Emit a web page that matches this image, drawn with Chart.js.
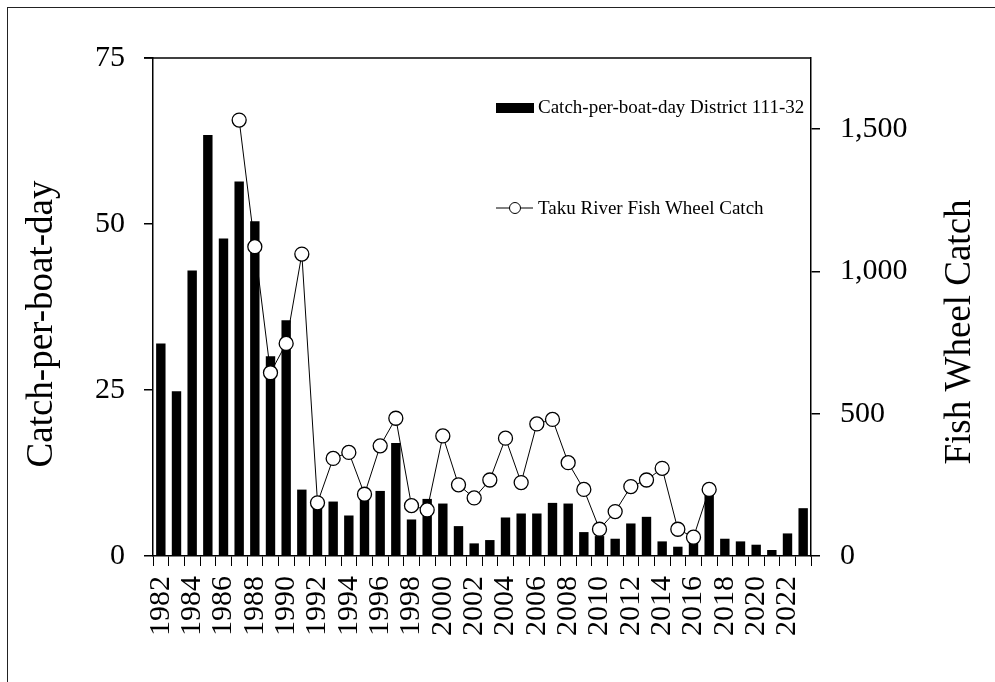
<!DOCTYPE html>
<html>
<head>
<meta charset="utf-8">
<script src="https://cdn.jsdelivr.net/npm/chart.js@4.4.1/dist/chart.umd.min.js"></script>
<style>
    html, body { margin: 0; padding: 0; background: #fff; overflow: hidden; }
    #wrap { position: relative; width: 995px; height: 682px; }
    #frame { position: absolute; left: 7px; top: 7px; width: 1000px; height: 700px;
             border-left: 1.5px solid #222; border-top: 1.5px solid #222; box-sizing: border-box; }
    canvas { position: absolute; left: 0; top: 0; }
</style>
</head>
<body>
<div id="wrap">
    <div id="frame"></div>
    <canvas id="chart" width="995" height="682"></canvas>
</div>
<script>
// ---- data ----
var years = ['1982','1983','1984','1985','1986','1987','1988','1989','1990','1991',
             '1992','1993','1994','1995','1996','1997','1998','1999','2000','2001',
             '2002','2003','2004','2005','2006','2007','2008','2009','2010','2011',
             '2012','2013','2014','2015','2016','2017','2018','2019','2020','2021',
             '2022','2023'];

// catch-per-boat-day, District 111-32 (left axis)
var cpue = [32.0, 24.8, 43.0, 63.4, 47.8, 56.4, 50.4, 30.1, 35.5, 10.0,
            7.5, 8.2, 6.1, 8.8, 9.8, 17.0, 5.5, 8.6, 7.9, 4.5,
            1.9, 2.4, 5.8, 6.4, 6.4, 8.0, 7.9, 3.6, 3.0, 2.6,
            4.9, 5.9, 2.2, 1.4, 2.1, 9.5, 2.6, 2.2, 1.7, 0.9,
            3.4, 7.2];

// Taku River fish wheel catch (right axis)
var fishWheel = [null, null, null, null, null, 1532, 1087, 644, 747, 1061,
                 187, 343, 364, 217, 387, 484, 177, 162, 422, 250,
                 204, 267, 414, 258, 464, 480, 328, 234, 94, 156,
                 244, 267, 308, 94, 66, 234, null, null, null, null,
                 null, null];

var leftTicks  = [0, 25, 50, 75];
var rightTicks = [0, 500, 1000, 1500];

var serif = "'Liberation Serif', 'Times New Roman', serif";

// titles, legend and top border drawn by hand
var extrasPlugin = {
    id: 'extras',
    afterDraw: function (chart) {
        var ctx = chart.ctx;
        var area = chart.chartArea;
        ctx.save();

        // top border of plot
        ctx.strokeStyle = '#000';
        ctx.lineWidth = 1.5;
        ctx.beginPath();
        ctx.moveTo(area.left - 9, area.top);
        ctx.lineTo(area.right, area.top);
        ctx.stroke();

        // axis titles, both reading bottom to top
        ctx.fillStyle = '#000';
        ctx.font = '37px ' + serif;
        ctx.textAlign = 'center';
        ctx.textBaseline = 'middle';
        ctx.save();
        ctx.translate(42, 324);
        ctx.rotate(-Math.PI / 2);
        ctx.fillText('Catch-per-boat-day', 0, 0);
        ctx.restore();
        ctx.save();
        ctx.translate(960, 332);
        ctx.rotate(-Math.PI / 2);
        ctx.fillText('Fish Wheel Catch', 0, 0);
        ctx.restore();

        // legend
        ctx.font = '19px ' + serif;
        ctx.textAlign = 'left';
        ctx.fillRect(496, 103, 38, 10);
        ctx.fillText('Catch-per-boat-day District 111-32', 538, 108);

        ctx.lineWidth = 1;
        ctx.beginPath();
        ctx.moveTo(496, 208);
        ctx.lineTo(533, 208);
        ctx.stroke();
        ctx.beginPath();
        ctx.arc(515, 208, 5.5, 0, Math.PI * 2);
        ctx.fillStyle = '#fff';
        ctx.fill();
        ctx.stroke();
        ctx.fillStyle = '#000';
        ctx.fillText('Taku River Fish Wheel Catch', 538, 209);

        ctx.restore();
    }
};

new Chart(document.getElementById('chart'), {
    type: 'bar',
    data: {
        labels: years,
        datasets: [{
            type: 'line',
            label: 'Taku River Fish Wheel Catch',
            data: fishWheel,
            yAxisID: 'y1',
            borderColor: '#000',
            borderWidth: 1,
            pointRadius: 7,
            pointBorderWidth: 1.3,
            pointBackgroundColor: '#fff',
            pointBorderColor: '#000',
            tension: 0,
            spanGaps: false,
            order: 0
        }, {
            label: 'Catch-per-boat-day District 111-32',
            data: cpue,
            yAxisID: 'y',
            backgroundColor: '#000',
            categoryPercentage: 1,
            barPercentage: 0.6,
            order: 1
        }]
    },
    options: {
        responsive: false,
        animation: false,
        layout: { padding: { top: 58, left: 0, right: 0, bottom: 0 } },
        plugins: {
            legend: { display: false },
            tooltip: { enabled: false }
        },
        scales: {
            x: {
                offset: true,
                grid: { offset: true, drawOnChartArea: false, drawTicks: true, tickLength: 10, color: '#000', lineWidth: 1 },
                border: { display: true, color: '#000', width: 1.5 },
                ticks: {
                    autoSkip: false,
                    minRotation: 90,
                    maxRotation: 90,
                    padding: 10,
                    color: '#000',
                    font: { family: serif, size: 30 },
                    callback: function (v, i) { return i % 2 === 0 ? years[i] : ''; }
                },
                afterFit: function (s) { s.height = 126; }
            },
            y: {
                position: 'left',
                min: 0,
                max: 75,
                grid: { drawOnChartArea: false, tickLength: 9, color: '#000', lineWidth: 1.5 },
                border: { display: true, color: '#000', width: 1.5 },
                ticks: {
                    stepSize: 25,
                    padding: 19,
                    color: '#000',
                    font: { family: serif, size: 30 }
                },
                afterBuildTicks: function (s) {
                    s.ticks = leftTicks.map(function (v) { return { value: v }; });
                },
                afterFit: function (s) { s.width = 153; }
            },
            y1: {
                position: 'right',
                min: 0,
                max: 1750,
                grid: { drawOnChartArea: false, tickLength: 9, color: '#000', lineWidth: 1.5 },
                border: { display: true, color: '#000', width: 1.5 },
                ticks: {
                    padding: 20,
                    color: '#000',
                    font: { family: serif, size: 30 },
                    callback: function (v) { return v.toLocaleString('en-US'); }
                },
                afterBuildTicks: function (s) {
                    s.ticks = rightTicks.map(function (v) { return { value: v }; });
                },
                afterFit: function (s) { s.width = 184; }
            }
        }
    },
    plugins: [extrasPlugin]
});
</script>
</body>
</html>
